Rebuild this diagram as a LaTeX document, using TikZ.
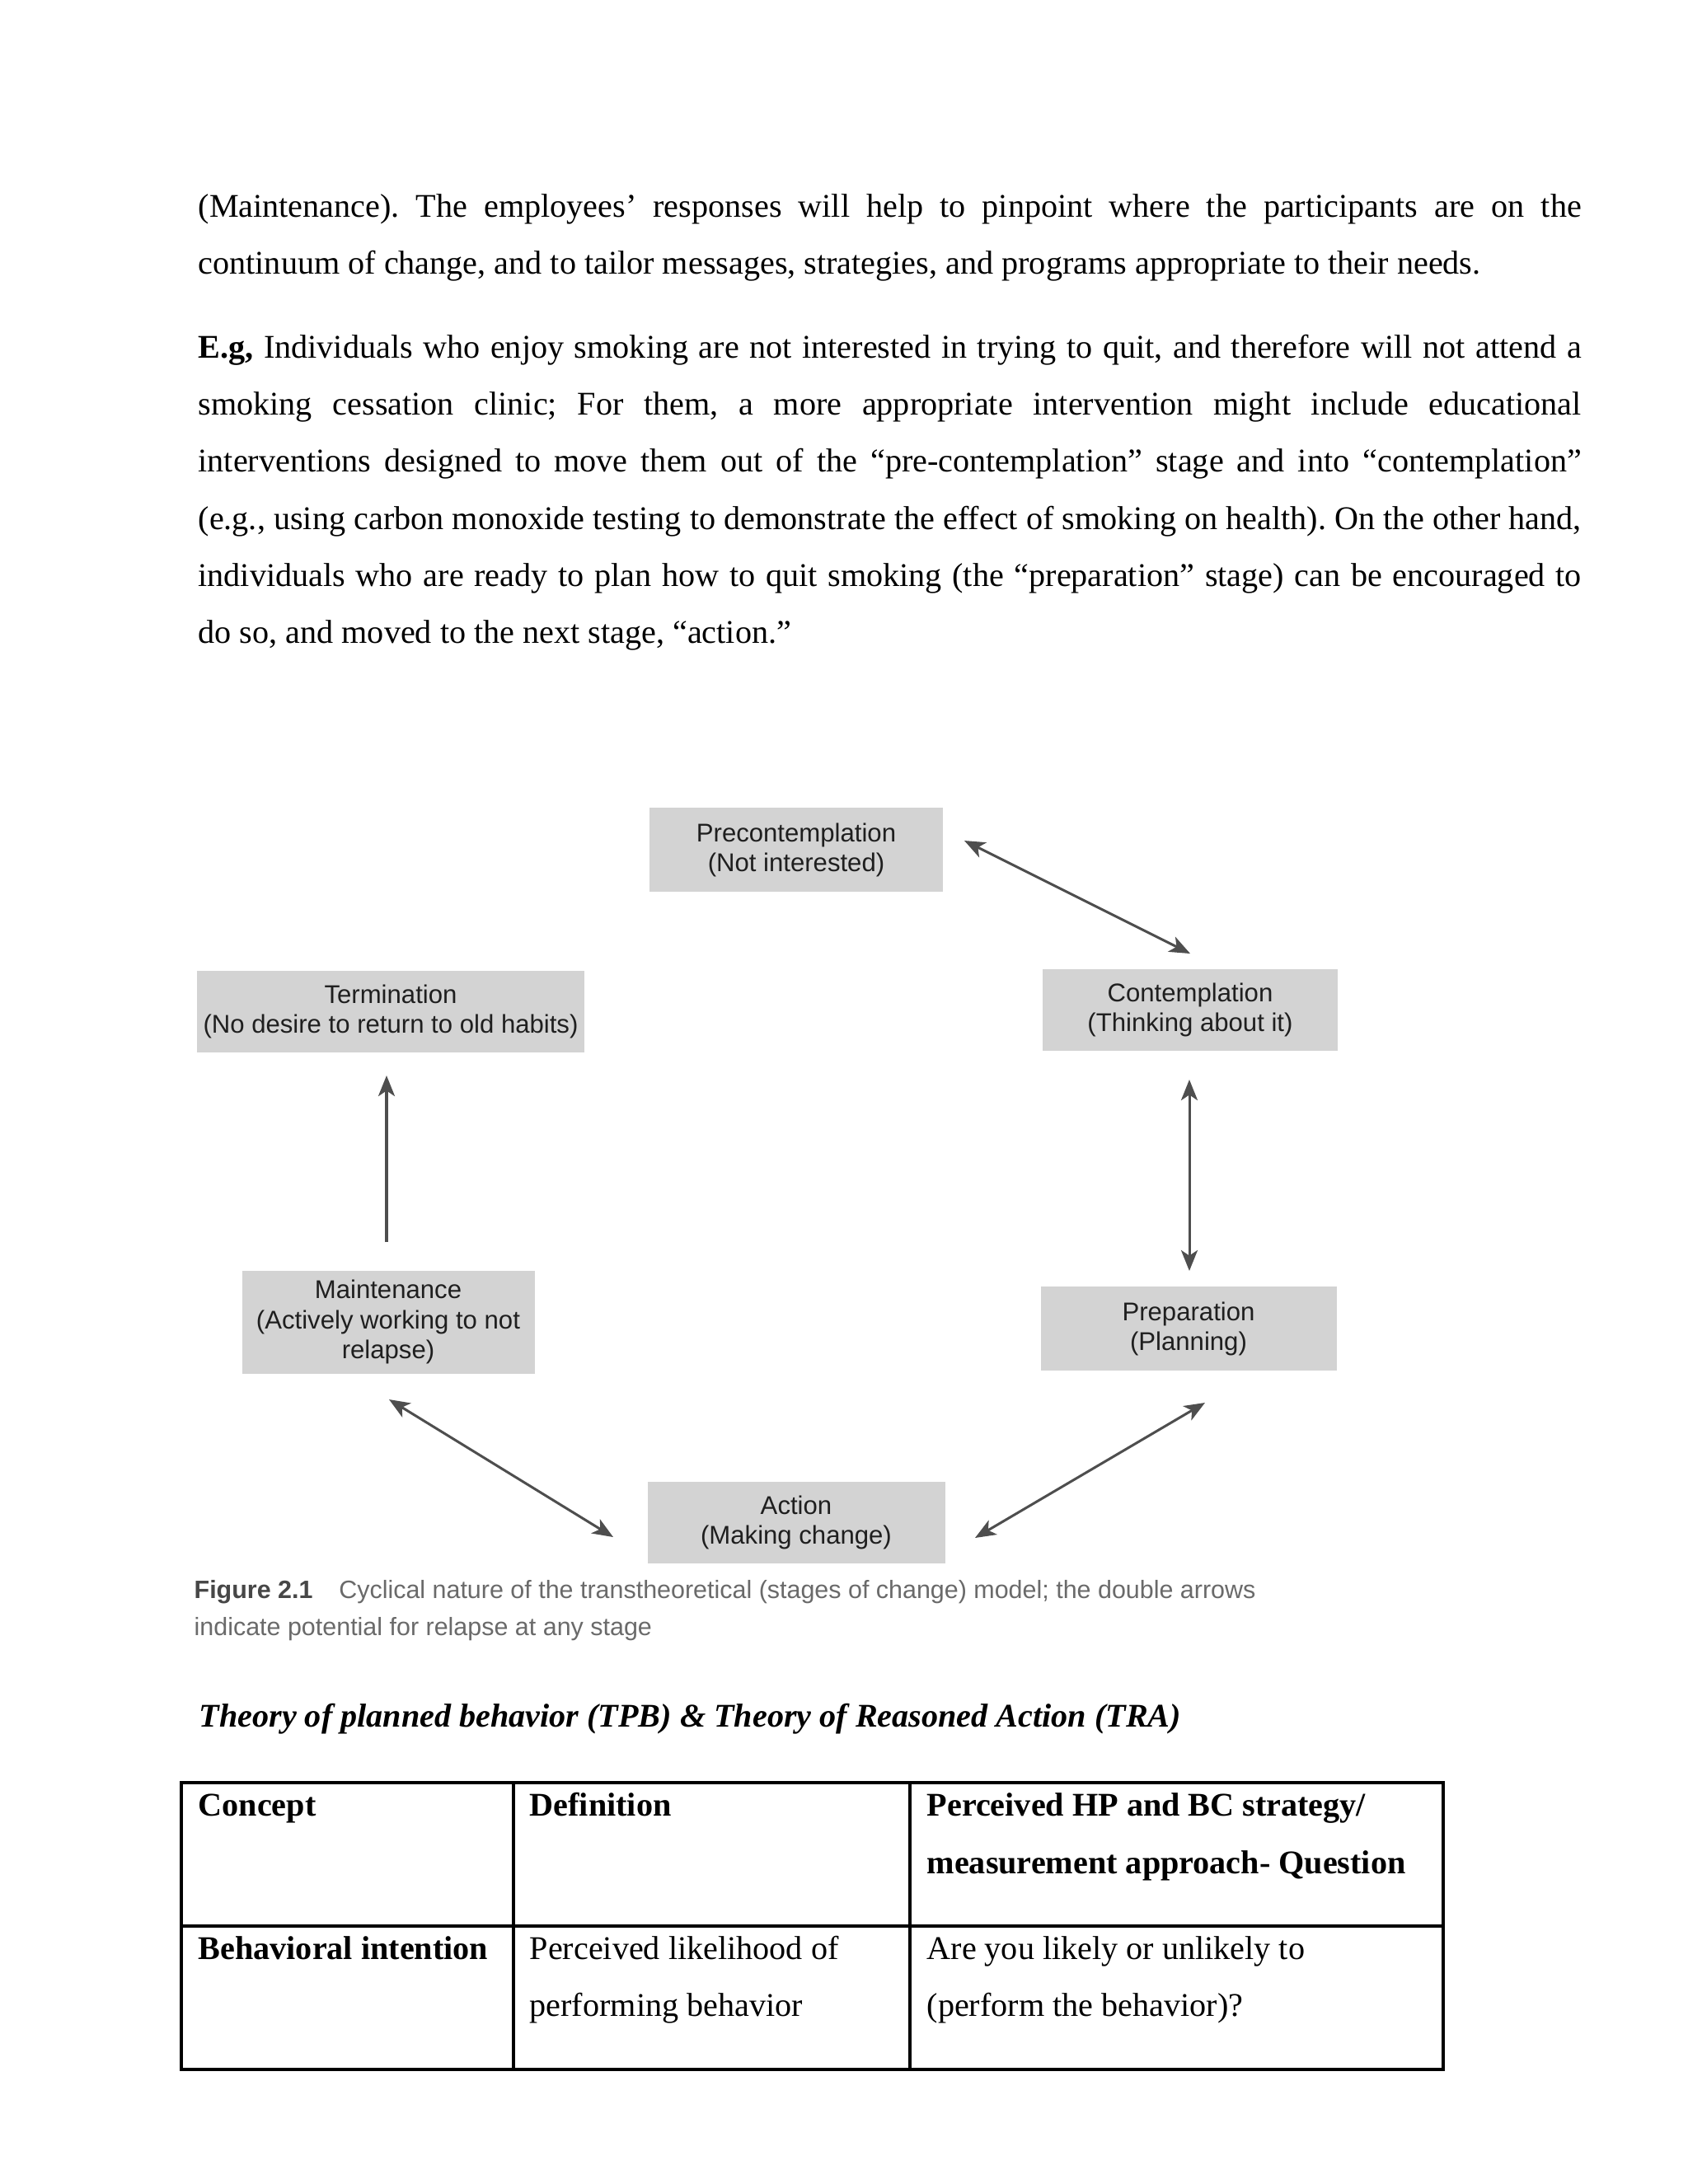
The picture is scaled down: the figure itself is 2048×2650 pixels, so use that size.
\documentclass[tikz,border=0pt]{standalone}
\usepackage{fontspec}
\setmainfont{Liberation Serif}
\newfontfamily\diafont{Liberation Sans}
\usetikzlibrary{arrows.meta}
\newcommand\pxu[1]{#1*0.2988pt}
\definecolor{boxgray}{HTML}{D3D3D3}
\definecolor{arrowgray}{HTML}{4E4E4E}
\definecolor{capgray}{HTML}{6A6A6A}
\frenchspacing
\begin{document}
\begin{tikzpicture}[x=0.2988pt, y=-0.2988pt,
  body/.style={anchor=base west, inner sep=0pt, font=\fontsize{12}{14}\selectfont},
  stage/.style={fill=boxgray, inner sep=0pt, align=center, text=black!88,
    font=\diafont\fontsize{9.3}{10.8}\selectfont},
  captxt/.style={anchor=base west, inner sep=0pt, text=capgray,
    font=\diafont\fontsize{9.1}{11}\selectfont},
  dbl/.style={{Stealth[length=7.5pt,width=6pt,inset=2pt]}-{Stealth[length=7.5pt,width=6pt,inset=2pt]},
    draw=arrowgray, line width=0.9pt},
  sgl/.style={-{Stealth[length=7.5pt,width=6pt,inset=2pt]}, draw=arrowgray, line width=0.9pt},
  tline/.style={line width=1.1pt, line cap=rect}]
\useasboundingbox[fill=white] (0,0) rectangle (2048,2650);

% ---- body text ----
\node[body] (p1a) at (240,263) {\makebox[501.4pt][s]{(Maintenance). The employees’ responses will help to pinpoint where the participants are on the}};
\node[body] (p1b) at (240,332) {continuum of change, and to tailor messages, strategies, and programs appropriate to their needs.};

\node[body] (p2a) at (240,434) {\makebox[501.4pt][s]{\textbf{E.g,} Individuals who enjoy smoking are not interested in trying to quit, and therefore will not attend a}};
\node[body] (p2b) at (240,503) {\makebox[501.4pt][s]{smoking cessation clinic; For them, a more appropriate intervention might include educational}};
\node[body] (p2c) at (240,572) {\makebox[501.4pt][s]{interventions designed to move them out of the “pre-contemplation” stage and into “contemplation”}};
\node[body] (p2d) at (240,642) {\makebox[501.4pt][s]{(e.g., using carbon monoxide testing to demonstrate the effect of smoking on health). On the other hand,}};
\node[body] (p2e) at (240,711) {\makebox[501.4pt][s]{individuals who are ready to plan how to quit smoking (the “preparation” stage) can be encouraged to}};
\node[body] (p2f) at (240,780) {do so, and moved to the next stage, “action.”};

% ---- diagram ----
\node[stage, minimum width=\pxu{356}, minimum height=\pxu{102}] (pre) at (966,1031) {Precontemplation\\(Not interested)};
\node[stage, minimum width=\pxu{470}, minimum height=\pxu{99}] (term) at (474,1227) {Termination\\(No desire to return to old habits)};
\node[stage, minimum width=\pxu{358}, minimum height=\pxu{99}] (cont) at (1444,1225) {Contemplation\\(Thinking about it)};
\node[stage, minimum width=\pxu{355}, minimum height=\pxu{125}] (maint) at (471,1604) {Maintenance\\(Actively working to not\\relapse)};
\node[stage, minimum width=\pxu{359}, minimum height=\pxu{102}] (prep) at (1442,1612) {Preparation\\(Planning)};
\node[stage, minimum width=\pxu{361}, minimum height=\pxu{99}] (act) at (966,1847) {Action\\(Making change)};

\coordinate (a1s) at (1170,1020);
\coordinate (a1e) at (1444,1157);
\coordinate (a2s) at (1443,1310);
\coordinate (a2e) at (1443,1542);
\coordinate (a3s) at (1462,1702);
\coordinate (a3e) at (1183,1866);
\coordinate (a4s) at (472,1698);
\coordinate (a4e) at (744,1865);
\coordinate (a5s) at (469,1507);
\coordinate (a5e) at (469,1305);

\draw[dbl] (a1s) -- (a1e);
\draw[dbl] (a2s) -- (a2e);
\draw[dbl] (a3s) -- (a3e);
\draw[dbl] (a4s) -- (a4e);
\draw[sgl] (a5s) -- (a5e);

% ---- caption ----
\node[captxt] (cap1) at (235,1939) {{\bfseries\color{black!72}Figure 2.1}\hspace{9.5pt}Cyclical nature of the transtheoretical (stages of change) model; the double arrows};
\node[captxt] (cap2) at (235,1984) {indicate potential for relapse at any stage};

% ---- heading ----
\node[body, font=\fontsize{12}{14}\selectfont\bfseries\itshape] (head) at (241,2095) {Theory of planned behavior (TPB) \& Theory of Reasoned Action (TRA)};

% ---- table ----
\draw[tline] (220,2163) rectangle (1751,2511);
\draw[tline] (623,2163) -- (623,2511);
\draw[tline] (1104,2163) -- (1104,2511);
\draw[tline] (220,2337) -- (1751,2337);

\node[body, font=\fontsize{12}{14}\selectfont\bfseries] (h1) at (240,2203) {Concept};
\node[body, font=\fontsize{12}{14}\selectfont\bfseries] (h2) at (642,2203) {Definition};
\node[body, font=\fontsize{12}{14}\selectfont\bfseries] (h3a) at (1124,2203) {Perceived HP and BC strategy/};
\node[body, font=\fontsize{12}{14}\selectfont\bfseries] (h3b) at (1124,2273) {measurement approach- Question};

\node[body, font=\fontsize{12}{14}\selectfont\bfseries] (r1) at (240,2377) {Behavioral intention};
\node[body] (r2a) at (642,2377) {Perceived likelihood of};
\node[body] (r2b) at (642,2446) {performing behavior};
\node[body] (r3a) at (1124,2377) {Are you likely or unlikely to};
\node[body] (r3b) at (1124,2446) {(perform the behavior)?};
\end{tikzpicture}
\end{document}
